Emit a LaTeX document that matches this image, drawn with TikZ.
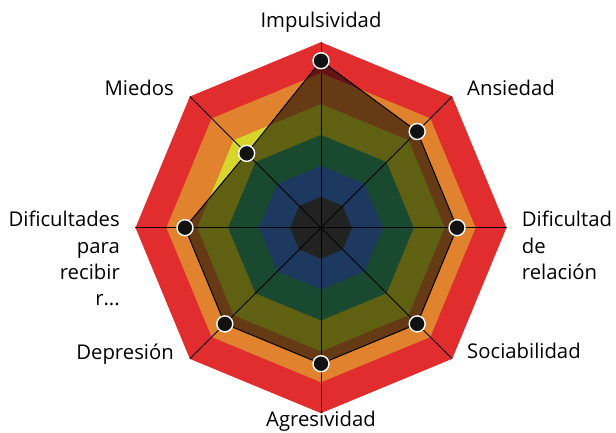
\documentclass[tikz,border=0pt]{standalone}
\usepackage{fontspec}
\setmainfont{Open Sans}

\definecolor{ringred}{RGB}{226,45,47}
\definecolor{ringorange}{RGB}{224,130,46}
\definecolor{ringyellow}{RGB}{214,214,44}
\definecolor{ringgreen}{RGB}{56,162,104}
\definecolor{ringblue}{RGB}{66,128,212}
\definecolor{ringgrey}{RGB}{76,76,76}

\begin{document}
\begin{tikzpicture}[x=1pt,y=1pt,
  lbl/.style={font=\fontsize{20.3}{26.3}\selectfont, inner sep=0pt},
  dot/.style={circle, fill=black!93, draw=white, line width=1.4pt, minimum size=16pt, inner sep=0pt}]
  \useasboundingbox (-321,-205.3) rectangle (295,227.7); % Fix the margins

  % Rings, outside in
  \foreach \r/\c in {185.5/ringred, 154.6/ringorange, 123.7/ringyellow, 92.75/ringgreen, 61.8/ringblue, 30.9/ringgrey}
    \fill[\c] (0:\r) \foreach \a in {45,90,...,315} {-- (\a:\r)} -- cycle;

  \coordinate (O) at (0,0); % Centre
  \foreach \i/\a in {1/90, 2/45, 3/0, 4/-45, 5/-90, 6/-135, 7/180, 8/135}
    \coordinate (a\i) at (\a:185.5); % Axis ends

  % Scores (out of 30)
  \coordinate (p1) at (90:166.95);
  \coordinate (p2) at (45:136.03);
  \coordinate (p3) at (0:136.03);
  \coordinate (p4) at (-45:136.03);
  \coordinate (p5) at (-90:136.03);
  \coordinate (p6) at (-135:136.03);
  \coordinate (p7) at (180:136.03);
  \coordinate (p8) at (135:105.12);

  \fill[black, opacity=0.55] (p1) -- (p2) -- (p3) -- (p4) -- (p5) -- (p6) -- (p7) -- (p8) -- cycle; % Shade the score area

  \foreach \i in {1,...,8}
    \draw[line width=0.8pt] (O) -- (a\i); % Axes

  \draw[line width=1pt] (p1) -- (p2) -- (p3) -- (p4) -- (p5) -- (p6) -- (p7) -- (p8) -- cycle; % Score outline
  \foreach \i in {1,...,8}
    \node[dot] (d\i) at (p\i) {}; % Score points

  \node[lbl, anchor=base] (impulsividad) at (0,199.7) {Impulsividad};
  \node[lbl, anchor=base west] (ansiedad) at (146,131.7) {Ansiedad};
  \node[lbl, anchor=base east] (miedos) at (-147,131.7) {Miedos};
  \node[lbl, anchor=north west, align=left] (relacion) at (200.7,16.5) {Dificultad\\de\\relación};
  \node[lbl, anchor=north east, align=right] (recibir) at (-201,16.5) {Dificultades\\para\\recibir\\r...};
  \node[lbl, anchor=base east] (depresion) at (-147,-132.3) {Depresión};
  \node[lbl, anchor=base west] (sociabilidad) at (146,-131.3) {Sociabilidad};
  \node[lbl, anchor=base] (agresividad) at (0,-199.3) {Agresividad};
\end{tikzpicture}
\end{document}
